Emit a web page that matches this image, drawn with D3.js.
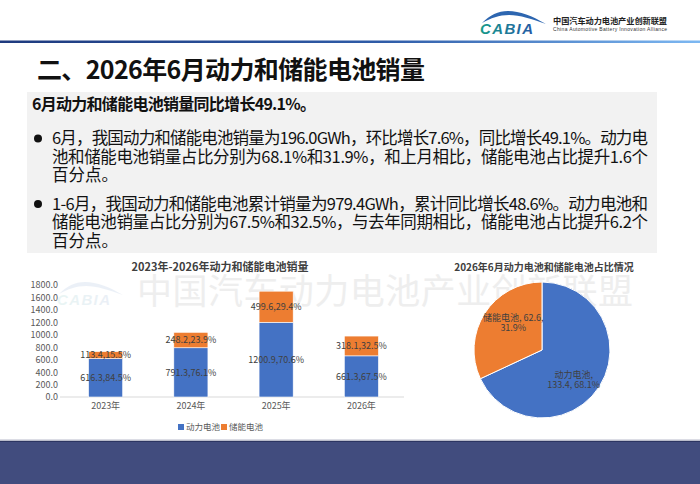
<!DOCTYPE html>
<html>
<head>
<meta charset="utf-8">
<script src="https://cdn.jsdelivr.net/npm/d3@7"></script>
<style>
  html, body { margin: 0; padding: 0; background: #fff; }
  svg { display: block; font-family: "Noto Sans CJK SC", "Noto Sans", sans-serif; }
</style>
</head>
<body>
<div id="viz"></div>
<script>
// ---- data ----
const years = ["2023年", "2024年", "2025年", "2026年"];
const powerSales = [616.3, 791.3, 1200.9, 661.3];
const storageSales = [113.4, 248.2, 499.6, 318.1];
const powerShare = [84.5, 76.1, 70.6, 67.5];
const storageShare = [15.5, 23.9, 29.4, 32.5];
const yTicks = [0, 200, 400, 600, 800, 1000, 1200, 1400, 1600, 1800];
const seriesNames = ["动力电池", "储能电池"];

const pieNames = ["动力电池", "储能电池"];
const pieValues = [133.4, 62.6];
const pieShares = [68.1, 31.9];

const pageTitle = "二、2026年6月动力和储能电池销量";
const subTitle = "6月动力和储能电池销量同比增长49.1%。";
const bullet1 = [
  "6月，我国动力和储能电池销量为196.0GWh，环比增长7.6%，同比增长49.1%。动力电",
  "池和储能电池销量占比分别为68.1%和31.9%，和上月相比，储能电池占比提升1.6个",
  "百分点。"
];
const bullet2 = [
  "1-6月，我国动力和储能电池累计销量为979.4GWh，累计同比增长48.6%。动力电池和",
  "储能电池销量占比分别为67.5%和32.5%，与去年同期相比，储能电池占比提升6.2个",
  "百分点。"
];
const barTitle = "2023年-2026年动力和储能电池销量";
const pieTitle = "2026年6月动力电池和储能电池占比情况";
const watermark = "中国汽车动力电池产业创新联盟";

const blue = "#4472c4", orange = "#ed7d31";

const W = 700, H = 484;
const svg = d3.select("#viz").append("svg")
  .attr("width", W)
  .attr("height", H);

const defs = svg.append("defs");
const lg = defs.append("linearGradient").attr("id", "hline");
lg.append("stop").attr("offset", "0%").attr("stop-color", "#1e3a7e");
lg.append("stop").attr("offset", "55%").attr("stop-color", "#2f5ca8");
lg.append("stop").attr("offset", "100%").attr("stop-color", "#7db8f2");
const lg2 = defs.append("linearGradient").attr("id", "logoText")
  .attr("x1", "0%").attr("x2", "100%");
lg2.append("stop").attr("offset", "0%").attr("stop-color", "#159a8a");
lg2.append("stop").attr("offset", "100%").attr("stop-color", "#245aa6");

// ---- header ----
function drawLogo(g) {
  g.append("path")
    .attr("d", "M2,10 C10,2 18,-2 28,-2 C40,-2 52,3 66,11 C52,6 40,2 29,2 C19,2 11,5 2,10 Z")
    .attr("fill", "#2d66b0");
  g.append("text")
    .attr("x", 0).attr("y", 21)
    .attr("font-family", "Liberation Sans, sans-serif")
    .attr("font-style", "italic")
    .attr("font-weight", "bold")
    .attr("font-size", 15)
    .attr("textLength", 53)
    .attr("fill", "url(#logoText)")
    .text("CABIA");
}
drawLogo(svg.append("g").attr("transform", "translate(480,13)"));
svg.append("text")
  .attr("x", 553).attr("y", 24)
  .attr("font-size", 8.2).attr("font-weight", "bold").attr("fill", "#222")
  .attr("textLength", 114)
  .text("中国汽车动力电池产业创新联盟");
svg.append("text")
  .attr("x", 553).attr("y", 31)
  .attr("font-family", "Liberation Sans, sans-serif")
  .attr("font-size", 5).attr("fill", "#333")
  .attr("textLength", 114)
  .text("China Automotive Battery Innovation Alliance");

svg.append("rect")
  .attr("x", 0).attr("y", 40.5).attr("width", W).attr("height", 2.5)
  .attr("fill", "url(#hline)");

svg.append("text")
  .attr("x", 37).attr("y", 79)
  .attr("font-size", 25).attr("font-weight", "bold").attr("fill", "#111")
  .attr("textLength", 388)
  .text(pageTitle);

// ---- text box ----
svg.append("rect")
  .attr("x", 27).attr("y", 92).attr("width", 630).attr("height", 161)
  .attr("fill", "#f2f2f2");

svg.append("text")
  .attr("x", 32).attr("y", 110)
  .attr("font-size", 16).attr("font-weight", "bold").attr("fill", "#111")
  .attr("textLength", 284)
  .text(subTitle);

function drawBullet(lines, y0) {
  svg.append("circle")
    .attr("cx", 38).attr("cy", y0 - 5.5).attr("r", 4)
    .attr("fill", "#111");
  lines.forEach((t, i) => {
    const tx = svg.append("text")
      .attr("x", 52).attr("y", y0 + i * 18.5)
      .attr("font-size", 16.5).attr("fill", "#111")
      .text(t);
    if (i < lines.length - 1) {
      tx.attr("textLength", 596).attr("lengthAdjust", "spacing");
    }
  });
}
drawBullet(bullet1, 144);
drawBullet(bullet2, 209.5);

// ---- watermark ----
svg.append("text")
  .attr("x", 137).attr("y", 304)
  .attr("font-size", 35).attr("fill", "#eeeeee")
  .attr("textLength", 496)
  .text(watermark);
drawLogo(svg.append("g").attr("transform", "translate(57,284)").attr("opacity", 0.09));

// ---- stacked bar chart ----
const x = d3.scaleBand()
  .domain(years)
  .range([63, 404])
  .paddingInner(0.6)
  .paddingOuter(0.3);

const y = d3.scaleLinear()
  .domain([0, 1800])
  .range([397, 285]);

svg.append("text")
  .attr("x", 220).attr("y", 270.5)
  .attr("text-anchor", "middle")
  .attr("font-size", 11).attr("font-weight", "bold").attr("fill", "#404040")
  .text(barTitle);

const yAxis = svg.append("g")
  .attr("transform", "translate(62,0)")
  .call(d3.axisLeft(y).tickValues(yTicks).tickFormat(d3.format(".1f")).tickSize(0).tickPadding(4));
yAxis.select(".domain").remove();
yAxis.selectAll("text")
  .attr("font-family", "Noto Sans CJK SC, sans-serif")
  .attr("font-size", 9).attr("fill", "#595959");

svg.append("line")
  .attr("x1", 60).attr("x2", 404)
  .attr("y1", y(0)).attr("y2", y(0))
  .attr("stroke", "#d9d9d9").attr("stroke-width", 1);

const stackData = years.map((yr, i) => ({
  year: yr, power: powerSales[i], storage: storageSales[i],
  powerShare: powerShare[i], storageShare: storageShare[i]
}));
const stack = d3.stack().keys(["power", "storage"])(stackData);
const colors = { power: blue, storage: orange };
const shareKey = { power: "powerShare", storage: "storageShare" };

stack.forEach(layer => {
  const g = svg.append("g");
  g.selectAll("rect")
    .data(layer)
    .enter()
    .append("rect")
    .attr("x", d => x(d.data.year))
    .attr("y", d => y(d[1]))
    .attr("width", x.bandwidth())
    .attr("height", d => y(d[0]) - y(d[1]))
    .attr("fill", colors[layer.key])
    .attr("stroke", "#fff")
    .attr("stroke-width", 0.6);
  g.selectAll("text")
    .data(layer)
    .enter()
    .append("text")
    .attr("x", d => x(d.data.year) + x.bandwidth() / 2)
    .attr("y", d => y((d[0] + d[1]) / 2))
    .attr("dy", "0.35em")
    .attr("text-anchor", "middle")
    .attr("font-size", 9).attr("fill", "#404040")
    .text(d => `${d.data[layer.key].toFixed(1)},${d.data[shareKey[layer.key]].toFixed(1)}%`);
});

const xAxis = svg.append("g")
  .attr("transform", `translate(0,${y(0)})`)
  .call(d3.axisBottom(x).tickSize(0).tickPadding(6));
xAxis.select(".domain").remove();
xAxis.selectAll("text")
  .attr("font-family", "Noto Sans CJK SC, sans-serif")
  .attr("font-size", 9).attr("fill", "#595959");

// legend
const legend = svg.append("g").attr("transform", "translate(178,427)");
seriesNames.forEach((name, i) => {
  const lgItem = legend.append("g").attr("transform", `translate(${i * 43},0)`);
  lgItem.append("rect")
    .attr("x", 0).attr("y", -3).attr("width", 6).attr("height", 6)
    .attr("fill", i === 0 ? blue : orange);
  lgItem.append("text")
    .attr("x", 8).attr("y", 0).attr("dy", "0.35em")
    .attr("font-size", 8.5).attr("fill", "#595959")
    .text(name);
});

// ---- pie chart ----
svg.append("text")
  .attr("x", 544).attr("y", 270.5)
  .attr("text-anchor", "middle")
  .attr("font-size", 10).attr("font-weight", "bold").attr("fill", "#404040")
  .text(pieTitle);

const pieData = pieNames.map((n, i) => ({ name: n, value: pieValues[i], share: pieShares[i] }));
const pie = d3.pie().sort(null).value(d => d.value);
const R = 68;
const arc = d3.arc().innerRadius(0).outerRadius(R);
const labelArc = d3.arc().innerRadius(40).outerRadius(40);
const labelShift = [[-2, 8], [5, -6]];

const pg = svg.append("g").attr("transform", "translate(542,350)");
pg.selectAll("path")
  .data(pie(pieData))
  .enter()
  .append("path")
  .attr("d", arc)
  .attr("fill", (d, i) => i === 0 ? blue : orange)
  .attr("stroke", "#fff")
  .attr("stroke-width", 1);

pg.selectAll("text")
  .data(pie(pieData))
  .enter()
  .append("text")
  .attr("text-anchor", "middle")
  .attr("font-size", 9).attr("fill", "#404040")
  .attr("transform", (d, i) => {
    const c = labelArc.centroid(d);
    return `translate(${c[0] + labelShift[i][0]},${c[1] + labelShift[i][1]})`;
  })
  .each(function (d, i) {
    const t = d3.select(this);
    const l1 = i === 0 ? `${d.data.name},` : `${d.data.name}, ${d.data.value.toFixed(1)},`;
    const l2 = i === 0 ? `${d.data.value.toFixed(1)}, ${d.data.share.toFixed(1)}%` : `${d.data.share.toFixed(1)}%`;
    t.append("tspan").attr("x", 0).attr("y", -1.5).text(l1);
    t.append("tspan").attr("x", 0).attr("y", 8.5).text(l2);
  });

// ---- bottom band ----
svg.append("rect")
  .attr("x", 0).attr("y", 439.5).attr("width", W).attr("height", 1.5)
  .attr("fill", "#b9bccb");
svg.append("rect")
  .attr("x", 0).attr("y", 441).attr("width", W).attr("height", H - 441)
  .attr("fill", "#414c7e");
svg.append("rect")
  .attr("x", 0).attr("y", 441).attr("width", W).attr("height", 1)
  .attr("fill", "#2c3562");
</script>
</body>
</html>
